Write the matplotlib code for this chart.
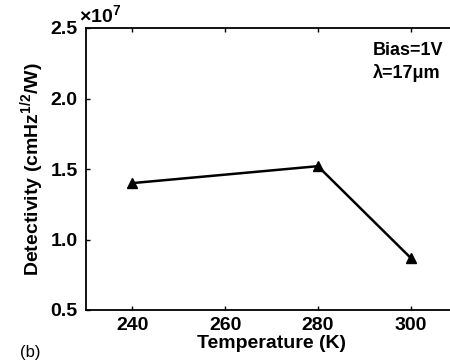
import matplotlib
matplotlib.use("Agg")
import matplotlib.pyplot as plt

temperature = [240, 280, 300]
detectivity = [1.40, 1.52, 0.87]  # x 1e7
xticks = [240, 260, 280, 300]
yticks = [0.5, 1.0, 1.5, 2.0, 2.5]
ytick_labels = ["0.5", "1.0", "1.5", "2.0", "2.5"]

plt.rcParams['font.family'] = ['Liberation Sans', 'DejaVu Sans']
plt.rcParams['font.weight'] = 'bold'
plt.rcParams['mathtext.fontset'] = 'custom'
plt.rcParams['mathtext.rm'] = 'Liberation Sans:bold'
plt.rcParams['mathtext.bf'] = 'Liberation Sans:bold'
plt.rcParams['mathtext.default'] = 'bf'

fig = plt.figure(figsize=(4.5, 3.64), dpi=100)
ax = fig.add_axes([86/450, 54/364, 371/450, 282/364])
ax.plot(temperature, detectivity, color='black', lw=1.8, marker='^', ms=7.5, clip_on=False)
ax.set_xlim(230, 310)
ax.set_ylim(0.5, 2.5)
ax.set_xticks(xticks)
ax.set_yticks(yticks)
ax.set_yticklabels(ytick_labels)
ax.tick_params(direction='in', length=3, width=1, top=True, right=False, labelsize=14)
ax.tick_params(axis='y', pad=6)
ax.tick_params(axis='x', pad=5)
for lab in ax.get_xticklabels() + ax.get_yticklabels():
    lab.set_fontweight('bold')
for s in ax.spines.values():
    s.set_linewidth(1.3)
ax.spines['right'].set_visible(False)
ax.set_xlabel('Temperature (K)', fontsize=14, fontweight='bold', labelpad=1)
ax.set_ylabel('Detectivity (cmHz$^{1/2}$/W)', fontsize=14, fontweight='bold', labelpad=3)
fig.text(79/450, 1 - 22/364, '×10$^{7}$', fontsize=14, ha='left', va='baseline', fontweight='bold')
fig.text(373/450, 1 - 55/364, 'Bias=1V', fontsize=13, ha='left', va='baseline', fontweight='bold')
fig.text(373/450, 1 - 78/364, 'λ=17μm', fontsize=13, ha='left', va='baseline', fontweight='bold')
fig.text(30/450, 1 - 352/364, '(b)', fontsize=12, fontweight='normal', ha='center', va='center')
fig.savefig('out.png', dpi=100)
